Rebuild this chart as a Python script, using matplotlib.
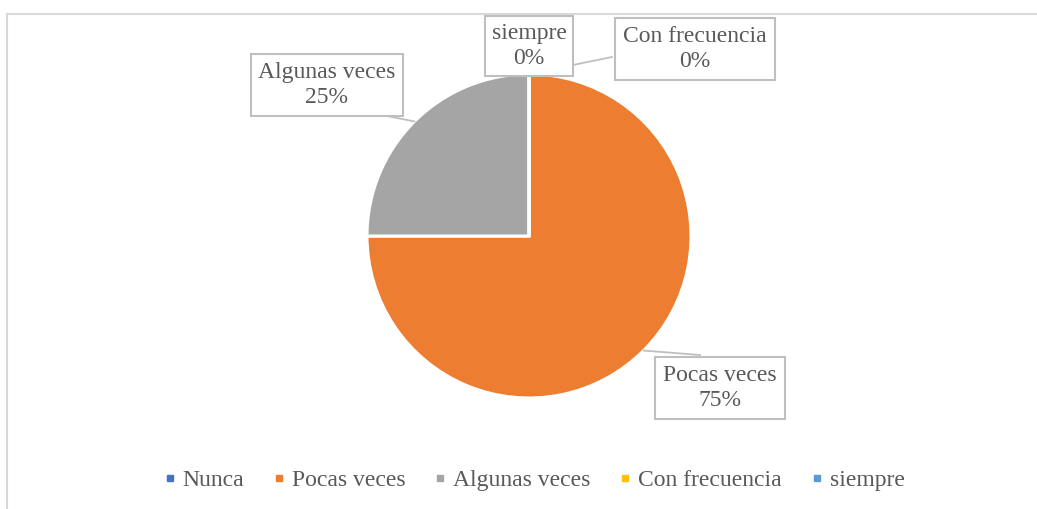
import matplotlib
matplotlib.use("Agg")
import matplotlib.pyplot as plt
from matplotlib.lines import Line2D
import numpy as np

categories = ["Nunca", "Pocas veces", "Algunas veces", "Con frecuencia", "siempre"]
values = [0, 75, 25, 0, 0]
percent_labels = ["0%", "75%", "25%", "0%", "0%"]
colors = ["#4472C4", "#ED7D31", "#A5A5A5", "#FFC000", "#5B9BD5"]

W, H = 1037, 509
plt.rcParams['font.family'] = ['Liberation Serif', 'DejaVu Serif']
TXT = "#595959"
FS = 17

fig = plt.figure(figsize=(W / 100, H / 100), dpi=100)
ax = fig.add_axes([0, 0, 1, 1])
ax.set_xlim(0, W)
ax.set_ylim(0, H)
ax.axis("off")

cx, cy, r = 529, H - 236, 162
wedges, _ = ax.pie(values, colors=colors, startangle=90, counterclock=False,
                   center=(cx, cy), radius=r, normalize=True,
                   wedgeprops=dict(edgecolor="white", linewidth=2.2))
ax.set_xlim(0, W)
ax.set_ylim(0, H)
ax.set_aspect("equal")

# chart frame (top and left edges visible)
frame_col = "#D9D9D9"
ax.add_line(Line2D([7, W], [H - 14, H - 14], color=frame_col, lw=1.5, zorder=0))
ax.add_line(Line2D([7, 7], [0, H - 14], color=frame_col, lw=1.5, zorder=0))

def edge_point(i):
    w = wedges[i]
    ang = np.deg2rad((w.theta1 + w.theta2) / 2)
    return cx + r * np.cos(ang), cy + r * np.sin(ang)

# label text positions (pixel centers)
label_pos = {
    1: (720, 388),
    2: (327, 85),
    3: (695, 49),
    4: (529, 46),
}
box_pad = {1: 0.33, 2: 0.33, 3: 0.33, 4: 0.28}
lead_end = {
    1: (700, 355),
    2: (372, 113),
    3: (612, 57),
}
for i, (px, py) in label_pos.items():
    if i in lead_end:
        ex, ey = edge_point(i)
        lx, ly = lead_end[i]
        ax.add_line(Line2D([ex, lx], [ey, H - ly], color="#BFBFBF", lw=1.3, zorder=3))
    ax.text(px, H - py, f"{categories[i]}\n{percent_labels[i]}", ha="center", va="center",
            fontsize=FS, color=TXT, linespacing=1.25, zorder=5 + (1 if i == 4 else 0),
            bbox=dict(boxstyle=f"square,pad={box_pad[i]}", fc="white", ec="#BFBFBF", lw=1.5))

handles = [Line2D([], [], marker="s", linestyle="", color=c, markersize=5) for c in colors]
fig.legend(handles, categories, loc="center", bbox_to_anchor=(534 / W, 1 - 480 / H), ncol=5,
           frameon=False, fontsize=FS, labelcolor=TXT, handlelength=0.5, handletextpad=0.3,
           columnspacing=1.22)

fig.savefig("out.png", dpi=100)
